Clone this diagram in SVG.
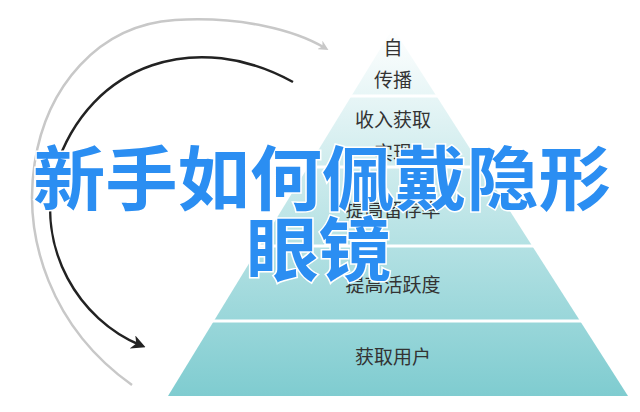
<svg xmlns="http://www.w3.org/2000/svg" width="640" height="412" viewBox="0 0 640 412">
<defs>
<linearGradient id="g" x1="0" y1="0" x2="0" y2="1"><stop offset="0" stop-color="#ffffff"/><stop offset="1" stop-color="#7fccd0"/></linearGradient>
<marker id="ag" markerWidth="10" markerHeight="10" refX="6" refY="5" orient="auto" markerUnits="userSpaceOnUse"><path d="M0,0 L10,5 L0,10 L3,5z" fill="#c8c8c8"/></marker>
<marker id="ab" markerWidth="14" markerHeight="14" refX="8" refY="7" orient="auto" markerUnits="userSpaceOnUse"><path d="M0,0 L14,7 L0,14 L4,7z" fill="#222"/></marker>
</defs>
<style>
.l{font-family:"Liberation Serif","Noto Sans CJK SC",serif;font-size:19px;fill:#333;text-anchor:middle}
.t{font-family:"Noto Sans CJK SC",sans-serif;font-weight:bold;font-size:70px;fill:#2b8ef2;stroke:#fff;stroke-width:3;paint-order:stroke}
</style>
<rect width="640" height="412" fill="#fff"/>
<g id="pyramid">
<polygon points="393,28 168,396 628,396" fill="url(#g)"/>
<g stroke="#fff" stroke-width="3">
<line x1="0" y1="96" x2="640" y2="96"/><line x1="0" y1="167" x2="640" y2="167"/><line x1="0" y1="246" x2="640" y2="246"/><line x1="0" y1="321" x2="640" y2="321"/>
</g>
</g>
<g id="connectors" fill="none">
<path d="M132,385 C-30,270 20,30 175,20 C240,16 295,30 325,48" stroke="#c8c8c8" stroke-width="2.5" marker-end="url(#ag)"/>
<path d="M293,82 C200,30 90,60 55,170 C35,250 80,320 140,345" stroke="#222" stroke-width="2.5" marker-end="url(#ab)"/>
</g>
<g id="labels">
<text class="l" x="393" y="55">自</text>
<text class="l" x="393" y="87">传播</text>
<text class="l" x="393" y="127">收入获取</text>
<text class="l" x="393" y="160">实现</text>
<text class="l" x="393" y="217">提高留存率</text>
<text class="l" x="393" y="292">提高活跃度</text>
<text class="l" x="393" y="364">获取用户</text>
</g>
<g id="title">
<text class="t" x="33" y="205" textLength="578" lengthAdjust="spacingAndGlyphs">新手如何佩戴隐形</text>
<text class="t" x="246" y="276" textLength="145" lengthAdjust="spacingAndGlyphs">眼镜</text>
</g>
</svg>
